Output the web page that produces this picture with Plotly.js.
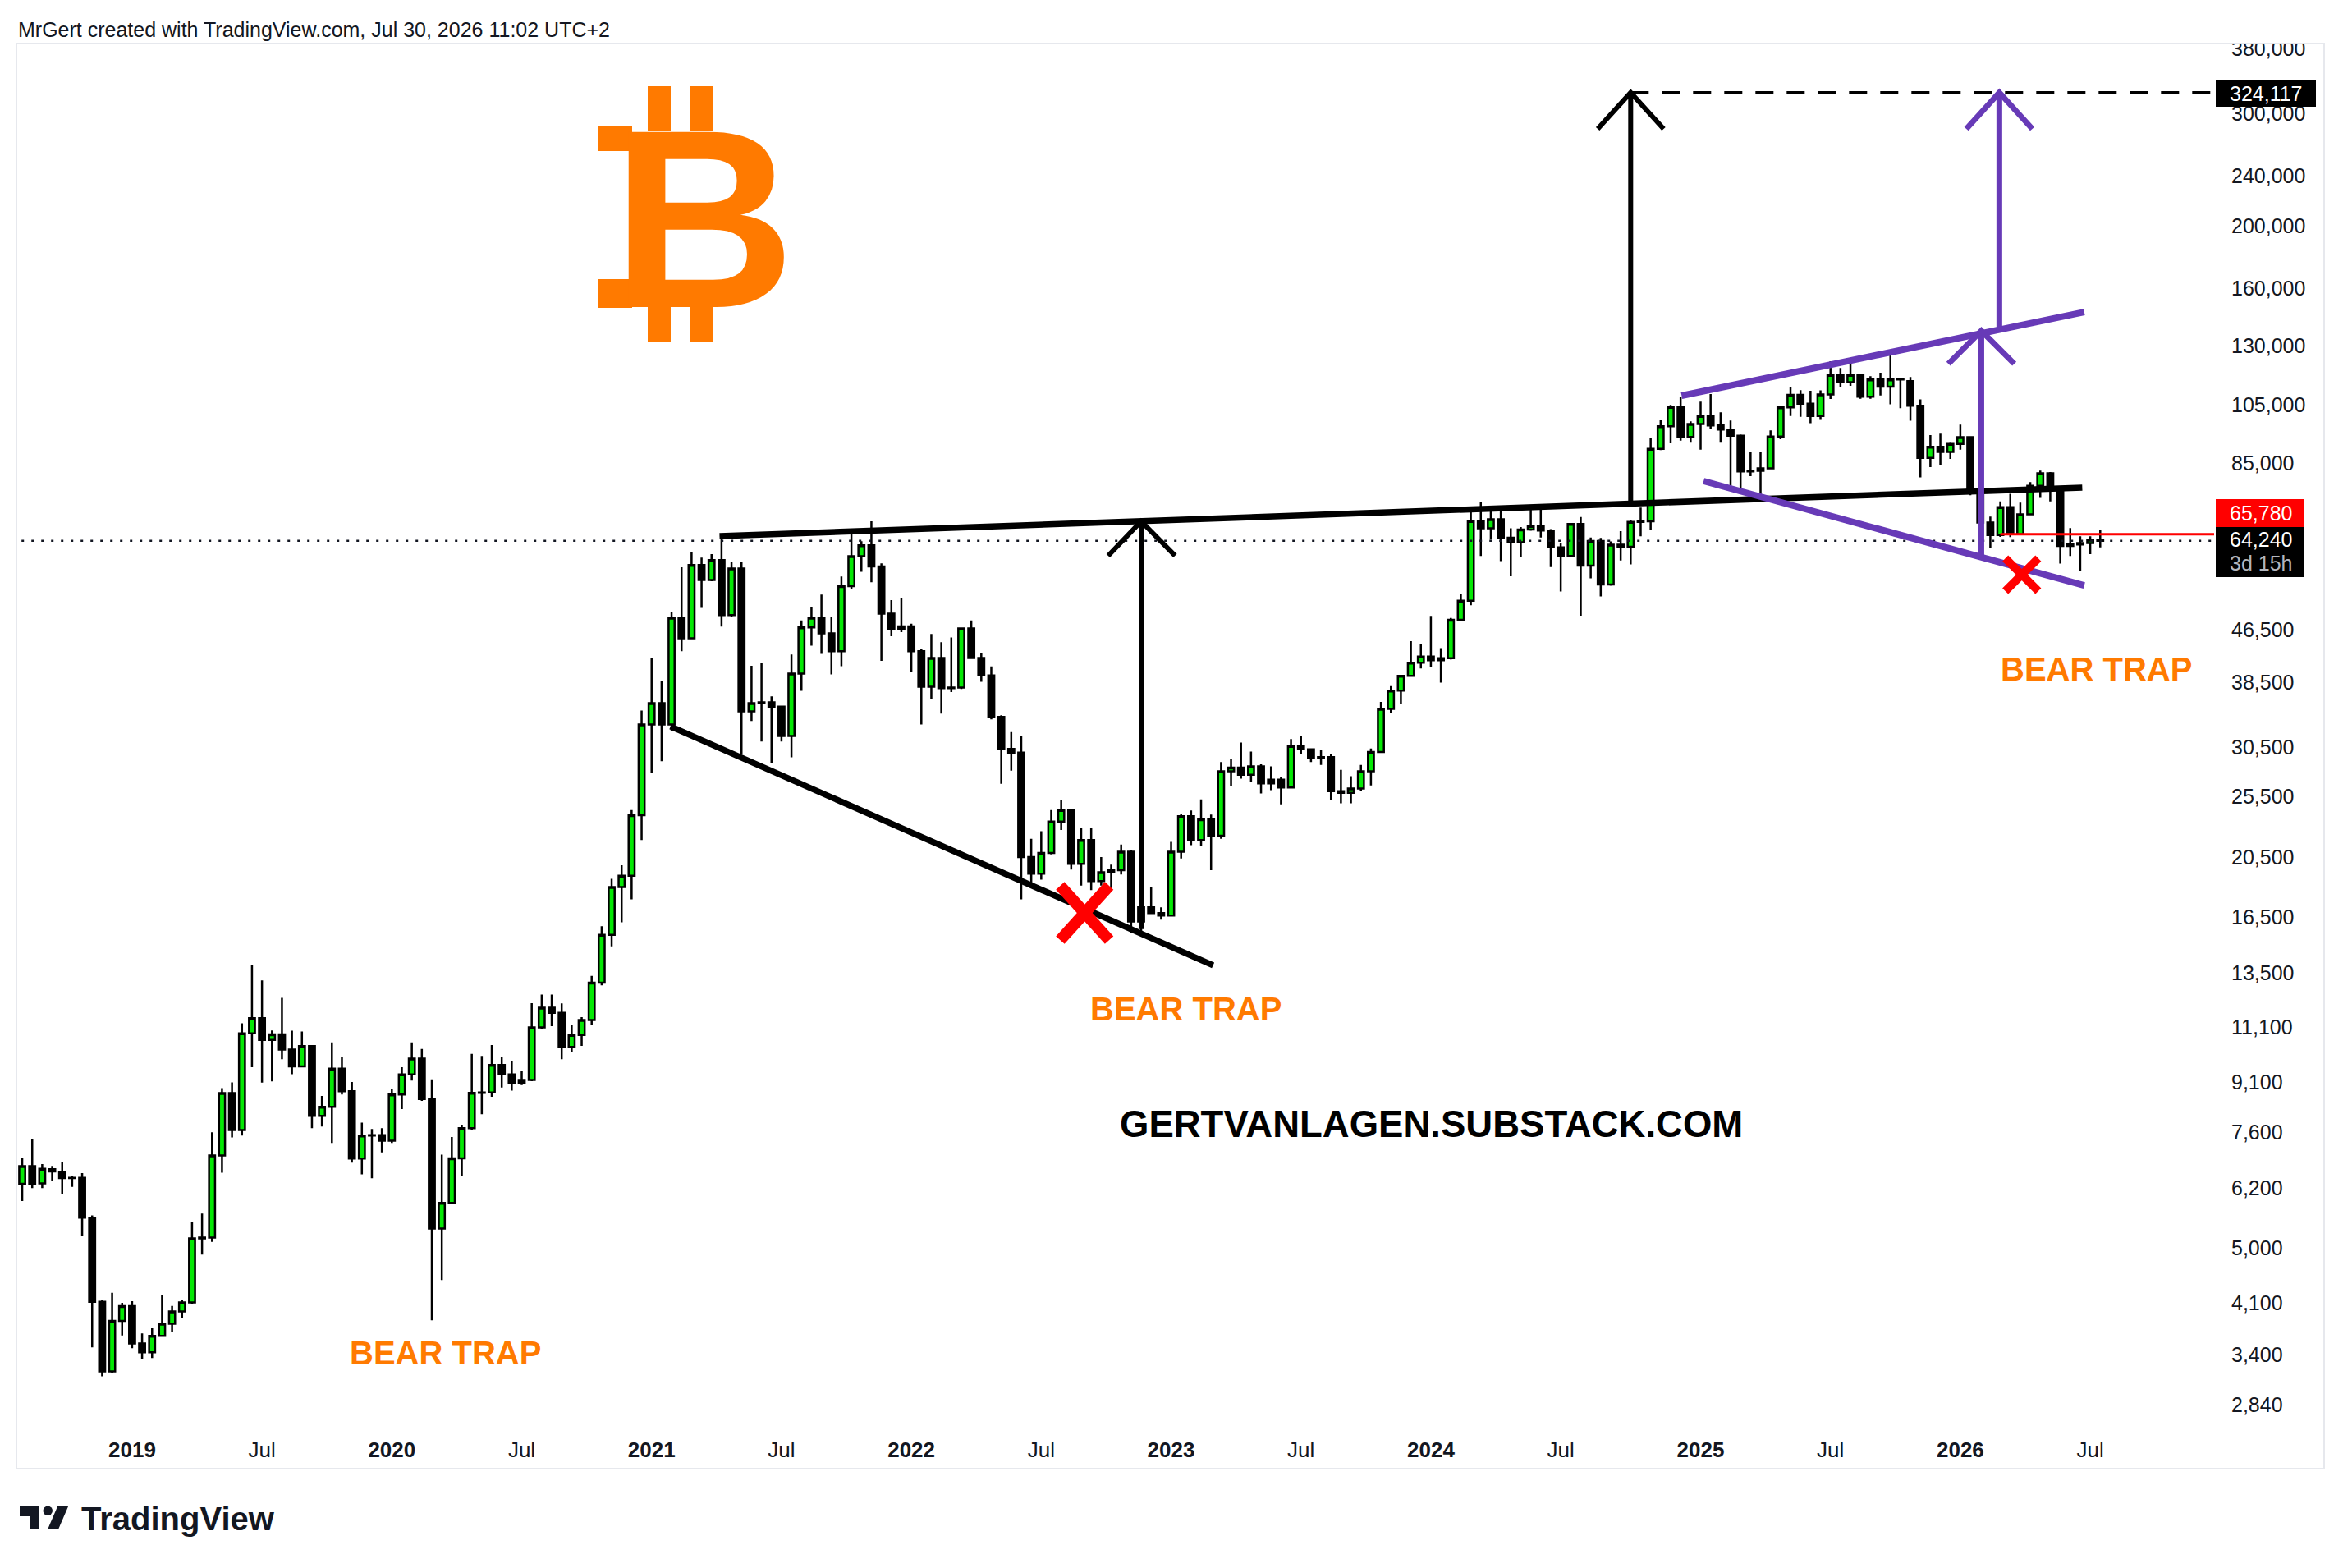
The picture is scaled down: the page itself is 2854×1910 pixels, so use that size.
<!DOCTYPE html>
<html>
<head>
<meta charset="utf-8">
<script src="https://cdn.plot.ly/plotly-3.0.1.min.js"></script>
<style>
html,body{margin:0;padding:0;background:#ffffff;}
#chart{width:2854px;height:1910px;}
</style>
</head>
<body>
<div id="chart"></div>
<script>
// ===== DATA: BTC two-week candles [open, high, low, close] =====
const candles2018 = [
  [6300,6930,5920,6715],[6715,7410,6205,6300],[6310,6765,6205,6650],[6640,6720,6375,6590],
  [6585,6810,6075,6435],[6440,6485,6230,6435],[6440,6550,5225,5575],[5575,5620,3490,4115],
  [4115,4135,3145,3200],[3200,4250,3180,3840],[3840,4100,3645,4050]
];
const candles2019 = [
  [4050,4125,3480,3540],[3540,3670,3350,3430],[3430,3740,3360,3640],[3640,4210,3640,3800],
  [3800,4055,3690,3975],[3975,4150,3880,4105],[4105,5500,4075,5175],[5175,5660,4880,5190],
  [5190,7590,5110,6980],[6980,8900,6560,8740],[8740,9090,7450,7650],[7650,11250,7500,10850],
  [10850,13880,9600,11460],[11460,13130,9080,10590],[10590,10960,9120,10810],[10810,12330,9880,10230],
  [10230,10950,9360,9630],[9630,10920,9600,10360],[10360,10380,7700,8050],[8050,8650,7750,8320],
  [8320,10500,7300,9550],[9550,9950,8700,8800],[8800,9100,6800,6900],[6900,7860,6520,7500],
  [7500,7680,6430,7510],[7510,7700,7060,7360]
];
const candles2020 = [
  [7360,8860,7300,8700],[8700,9600,8250,9350],[9350,10500,9150,9900],[9900,10250,8500,8560],
  [8560,9190,3850,5360],[5360,7000,4450,5880],[5880,7460,5860,6910],[6910,7800,6480,7700],
  [7700,10070,7640,8750],[8750,10000,8100,8760],[8760,10400,8630,9680],[9680,9960,8920,9350],
  [9350,9800,8820,9080],[9080,9480,9000,9170],[9170,12100,9130,11080],[11080,12480,11000,11900],
  [11900,12480,11130,11680],[11680,12090,9880,10330],[10330,11180,10150,10780],[10780,11500,10370,11380],
  [11380,13350,11200,13030],[13030,15970,12900,15480],[15480,18950,14850,18400],[18400,19900,16200,19170],
  [19170,24300,17600,23850],[23850,34800,21800,33080]
];
const candles2021 = [
  [33080,42000,27770,35740],[35740,38670,28980,33080],[33080,49750,32300,48630],[48630,58380,43110,45160],
  [45160,61700,45000,58850],[58850,60440,50390,55740],[55740,61220,55500,59900],[59900,65000,47120,49120],
  [49120,59560,48800,58090],[58090,59560,29700,34690],[34690,40910,33500,35740],[35740,41400,31110,35850],
  [35850,36630,28810,35300],[35300,35400,31110,31740],[31740,42600,29380,39760],[39760,48160,37360,46980],
  [46980,50490,43970,48630],[48630,52890,42700,45970],[45970,48870,39640,43110],[43110,56450,40830,54530],
  [54530,66910,54000,60740],[60740,64130,57420,63190],[63190,68930,55300,58560],[58560,59200,41640,49360],
  [49360,51860,45520,46650],[46650,52200,46200,47150]
];
const candles2022 = [
  [47150,47600,39950,43110],[43110,43500,33080,37920],[37920,45880,36270,42060],[42060,44530,34420,37730],
  [37730,45300,37200,37800],[37800,46800,37600,46800],[46800,48160,41900,42060],[42060,42900,38600,39500],
  [39500,40800,33700,34000],[34000,34200,26700,30300],[30300,32200,28000,29900],[29900,31700,17600,20500],
  [20500,21900,18600,19300],[19300,22500,18900,20800],[20800,24300,20700,23300],[23300,25200,22600,24300],
  [24300,24400,19600,20000],[20000,22800,18500,21800],[21800,22800,18200,18800],[18800,20500,18500,19400],
  [19400,19950,18150,19550],[19550,21450,19250,20900],[20900,21000,15600,16250],[16250,17400,15500,17100],
  [17100,18400,16700,16750],[16750,17100,16350,16600]
];
const candles2023 = [
  [16600,21650,16550,20900],[20900,23950,20400,23750],[23750,24250,21400,21800],[21800,25250,21350,23500],
  [23500,23900,19550,22150],[22150,28900,21900,27950],[27950,29200,26500,28330],[28330,31000,27200,27600],
  [27600,30000,26900,28450],[28450,28650,25800,26750],[26750,28450,26100,27100],[27100,27400,24800,26350],
  [26350,31400,26250,30600],[30600,31800,29700,30250],[30250,30300,28900,29300],[29300,30200,28600,29400],
  [29400,29700,25200,26000],[26000,28100,24900,25850],[25850,27450,24900,26250],[26250,28600,26000,27950],
  [27950,30350,26550,29950],[29950,35900,29900,35000],[35000,38000,34500,37400],[37400,39600,35650,39450],
  [39450,44700,39300,41350],[41350,44300,40500,42280]
];
const candles2024 = [
  [42280,48970,40750,41730],[41730,43600,38500,42030],[42030,48600,41850,48300],[48300,53000,48200,51730],
  [51730,72000,50900,68950],[68950,73800,60800,67200],[67200,72700,64500,69400],[69400,72800,59700,64950],
  [64950,67200,56500,63900],[63900,67500,60600,66900],[66900,71950,66600,67750],[67750,71950,65000,66650],
  [66650,67000,58400,62700],[62700,63800,53500,60800],[60800,68400,60600,68250],[68250,70000,49000,58700],
  [58700,65000,56100,64200],[64200,64900,52550,54850],[54850,64100,54600,63350],[63350,66500,59800,62800],
  [62870,69300,59000,68780],[68780,72400,65300,68900],[68900,93130,66700,89540],[89540,99530,89100,97100],
  [97100,104870,91330,104150],[104150,108030,92230,93430],[93430,98850,91510,97880]
];
const candles2025 = [
  [97880,106130,89270,100810],[100810,109100,96140,97390],[97390,102120,91510,95960],[95960,99150,78210,93890],
  [93890,94270,76760,82500],[82500,88660,81110,82660],[82660,88660,74450,83400],[83400,95660,83150,93610],
  [93610,104550,92700,103950],[103950,111830,100810,108790],[108790,110630,100510,105400],[105400,110410,98170,100810],
  [100810,110520,99630,108900],[108900,122840,107180,116920],[116920,119840,111830,113850],[113850,123810,112380,116900],
  [116900,117420,107290,108030],[108030,116340,107290,114970],[114970,117850,108570,112050],[112050,126150,105100,114970],
  [114970,115770,103640,115300],[114290,116000,99040,104570],[104570,106980,80730,86670],[86670,94070,83810,90160],
  [90160,94540,84370,88500],[88500,91510,86340,91150]
];
const candles2026 = [
  [91150,97670,89270,93340],[93340,93340,75700,76600],[76600,79130,60200,68580],[68580,70090,62620,65590],
  [65590,74070,65150,72550],[72550,76080,65100,65780],[65780,73710,65780,70650],[70650,79390,70650,78360],
  [78360,82740,74960,81930],[81930,82330,74070,77970],[76840,76840,59140,63050],[63050,67240,60790,63370],
  [63370,65280,57690,63680],[63680,65280,61210,64440],[64440,66910,62720,64240]
];

// axis ticks
const yTickValues = [380000,300000,240000,200000,160000,130000,105000,85000,46500,38500,30500,25500,20500,16500,13500,11100,9100,7600,6200,5000,4100,3400,2840];
const yTickLabels = ['380,000','300,000','240,000','200,000','160,000','130,000','105,000','85,000','46,500','38,500','30,500','25,500','20,500','16,500','13,500','11,100','9,100','7,600','6,200','5,000','4,100','3,400','2,840'];
const xTickBars = [11,24,37,50,63,76,89,102,115,128,141,154,168,181,194,207];
const xTickLabels = ['<b>2019</b>','Jul','<b>2020</b>','Jul','<b>2021</b>','Jul','<b>2022</b>','Jul','<b>2023</b>','Jul','<b>2024</b>','Jul','<b>2025</b>','Jul','<b>2026</b>','Jul'];

// price labels
const targetPrice = 324117;
const markedPrice = 65780;
const lastPrice = 64240;
const timeLeft = '3d 15h';

// ===== DRAWINGS (bar index, price) =====
const neckline = [[69.8,65330],[206.2,77830]];
const fallingLine = [[64.9,32850],[119.2,13870]];
const arrow2022 = [[112.0,15800],[112.0,68910],null,[108.7,60850],[112.0,68910],[115.4,60850]];
const arrow2024 = [[161.0,72630],[161.0,324117],null,[157.7,284200],[161.0,324117],[164.3,284200]];
const targetLine = [[161.0,targetPrice],[230,targetPrice]];
const channel = [[166.1,108450],[206.4,146700],null,[168.3,79680],[206.4,54680]];
const purpleArrows = [[196.1,60600],[196.1,137100],null,[192.8,121700],[196.1,137100],[199.4,121700],null,
                      [197.9,136700],[197.9,targetPrice],null,[194.6,284200],[197.9,targetPrice],[201.2,284200]];
const crossBig = [[103.9,18480],[108.8,15190],null,[103.9,15190],[108.8,18480]];
const crossSmall = [[198.5,60280],[201.8,53550],null,[198.5,53550],[201.8,60280]];
const markedLine = [[198.0,markedPrice],[230,markedPrice]];
const priceLine = [[-5,lastPrice],[230,lastPrice]];

// ===== BUILD =====
const all = [].concat(candles2018,candles2019,candles2020,candles2021,candles2022,candles2023,candles2024,candles2025,candles2026);
const idx = all.map((_, i) => i);

function lineTrace(pts, color, width, dash) {
  return {
    type: 'scatter', mode: 'lines',
    x: pts.map(p => p ? p[0] : null),
    y: pts.map(p => p ? p[1] : null),
    line: {color: color, width: width, dash: dash || 'solid'},
    hoverinfo: 'skip', showlegend: false
  };
}

const traces = [
  lineTrace(priceLine, '#131722', 2.5, '3px,9px'),
  {
    type: 'candlestick', x: idx,
    open: all.map(r => r[0]), high: all.map(r => r[1]),
    low: all.map(r => r[2]), close: all.map(r => r[3]),
    increasing: {line: {color: '#000000', width: 2.5}, fillcolor: '#05e805'},
    decreasing: {line: {color: '#000000', width: 2.5}, fillcolor: '#000000'},
    whiskerwidth: 0, hoverinfo: 'skip', showlegend: false
  },
  lineTrace(markedLine, '#ff0000', 3),
  lineTrace(targetLine, '#000000', 3.5, '22px,16px'),
  lineTrace(neckline, '#000000', 7.5),
  lineTrace(fallingLine, '#000000', 7.5),
  lineTrace(arrow2022, '#000000', 6),
  lineTrace(arrow2024, '#000000', 6),
  lineTrace(channel, '#673ab7', 8),
  lineTrace(purpleArrows, '#673ab7', 7),
  lineTrace(crossBig, '#ff0000', 14),
  lineTrace(crossSmall, '#ff0000', 10)
];

// pixel -> paper helpers for decorations
const PL = 20, PT = 53, PW = 2677, PH = 1687;
const px = x => (x - PL) / PW;
const py = y => (PT + PH - y) / PH;
function rect(x0, y0, x1, y1, color, extra) {
  return Object.assign({type: 'rect', xref: 'paper', yref: 'paper', x0: px(x0), x1: px(x1), y0: py(y1), y1: py(y0),
    fillcolor: color, line: {width: 0}, layer: 'above'}, extra || {});
}
const ORANGE = '#ff7a00';
const INK = '#131722';
const shapes = [
  // bitcoin sign bars and serifs
  rect(789,105,817,160,ORANGE), rect(841,105,869,160,ORANGE),
  rect(789,368,817,416,ORANGE), rect(841,368,869,416,ORANGE),
  rect(729,153,770,184,ORANGE), rect(729,340,770,375,ORANGE),
  // cover above plot top on price scale
  rect(2698,20,2830,54,'#ffffff'),
  // price labels
  rect(2699,97,2821,130,'#000000'),
  rect(2699,608,2807,642,'#ff0000'),
  rect(2699,642,2807,703,'#000000'),
  // frame
  {type: 'rect', xref: 'paper', yref: 'paper', x0: px(20), x1: px(2831), y0: py(1789), y1: py(53),
   line: {color: '#e6e8ed', width: 2}, fillcolor: 'rgba(0,0,0,0)', layer: 'above'},
  // TradingView logo
  rect(24,1834,48,1847,INK), rect(36,1834,48,1863,INK),
  {type: 'circle', xref: 'paper', yref: 'paper', x0: px(52.5), x1: px(64), y0: py(1846), y1: py(1834.5),
   fillcolor: INK, line: {width: 0}, layer: 'above'},
  {type: 'path', xref: 'paper', yref: 'paper', layer: 'above', fillcolor: INK, line: {width: 0},
   path: 'M ' + px(58) + ' ' + py(1863) + ' L ' + px(71) + ' ' + py(1863) + ' L ' + px(83.5) + ' ' + py(1834) + ' L ' + px(70.5) + ' ' + py(1834) + ' Z'}
];

function note(text, x, y, size, color, opts) {
  return Object.assign({text: text, xref: 'paper', yref: 'paper', x: px(x), y: py(y), showarrow: false,
    xanchor: 'center', yanchor: 'middle', font: {family: 'Liberation Sans', size: size, color: color}}, opts || {});
}
const annotations = [
  note('MrGert created with TradingView.com, Jul 30, 2026 11:02 UTC+2', 20, 36, 25, INK, {xanchor: 'left'}),
  note('<b>B</b>', 857, 266, 310, ORANGE),
  note('<b>BEAR TRAP</b>', 542, 1648, 40, ORANGE),
  note('<b>BEAR TRAP</b>', 1444, 1229, 40, ORANGE),
  note('<b>BEAR TRAP</b>', 2553, 815, 40, ORANGE),
  note('<b>GERTVANLAGEN.SUBSTACK.COM</b>', 1743, 1369, 45.5, '#000000'),
  note('<b>TradingView</b>', 97, 1850, 40, INK, {xanchor: 'left'}),
  note('324,117', 2714, 114, 25, '#ffffff', {xanchor: 'left'}),
  note('65,780', 2714, 625, 25, '#ffffff', {xanchor: 'left'}),
  note(String(lastPrice).replace(/\B(?=(\d{3})+(?!\d))/g, ','), 2714, 657, 25, '#ffffff', {xanchor: 'left'}),
  note(timeLeft, 2714, 686, 25, '#b2b5be', {xanchor: 'left'})
];

const layout = {
  width: 2854, height: 1910,
  margin: {l: PL, r: 2854 - PL - PW, t: PT, b: 1910 - PT - PH, pad: 0},
  paper_bgcolor: '#ffffff', plot_bgcolor: '#ffffff',
  showlegend: false, dragmode: false,
  boxgap: 0.4, boxgroupgap: 0,
  font: {family: 'Liberation Sans', color: INK},
  xaxis: {
    type: 'linear', range: [-0.58, 219.4], rangeslider: {visible: false},
    showgrid: false, zeroline: false, showline: false, ticks: '',
    tickmode: 'array', tickvals: xTickBars, ticktext: xTickLabels,
    tickfont: {family: 'Liberation Sans', size: 26, color: INK},
    ticklabelstandoff: 8
  },
  yaxis: {
    type: 'log', side: 'right', range: [Math.log10(2605), Math.log10(386800)],
    showgrid: false, zeroline: false, showline: false, ticks: '',
    tickmode: 'array', tickvals: yTickValues, ticktext: yTickLabels,
    tickfont: {family: 'Liberation Sans', size: 25, color: INK},
    ticklabelstandoff: 20
  },
  shapes: shapes,
  annotations: annotations
};

Plotly.newPlot('chart', traces, layout, {displayModeBar: false, staticPlot: true});
</script>
</body>
</html>
